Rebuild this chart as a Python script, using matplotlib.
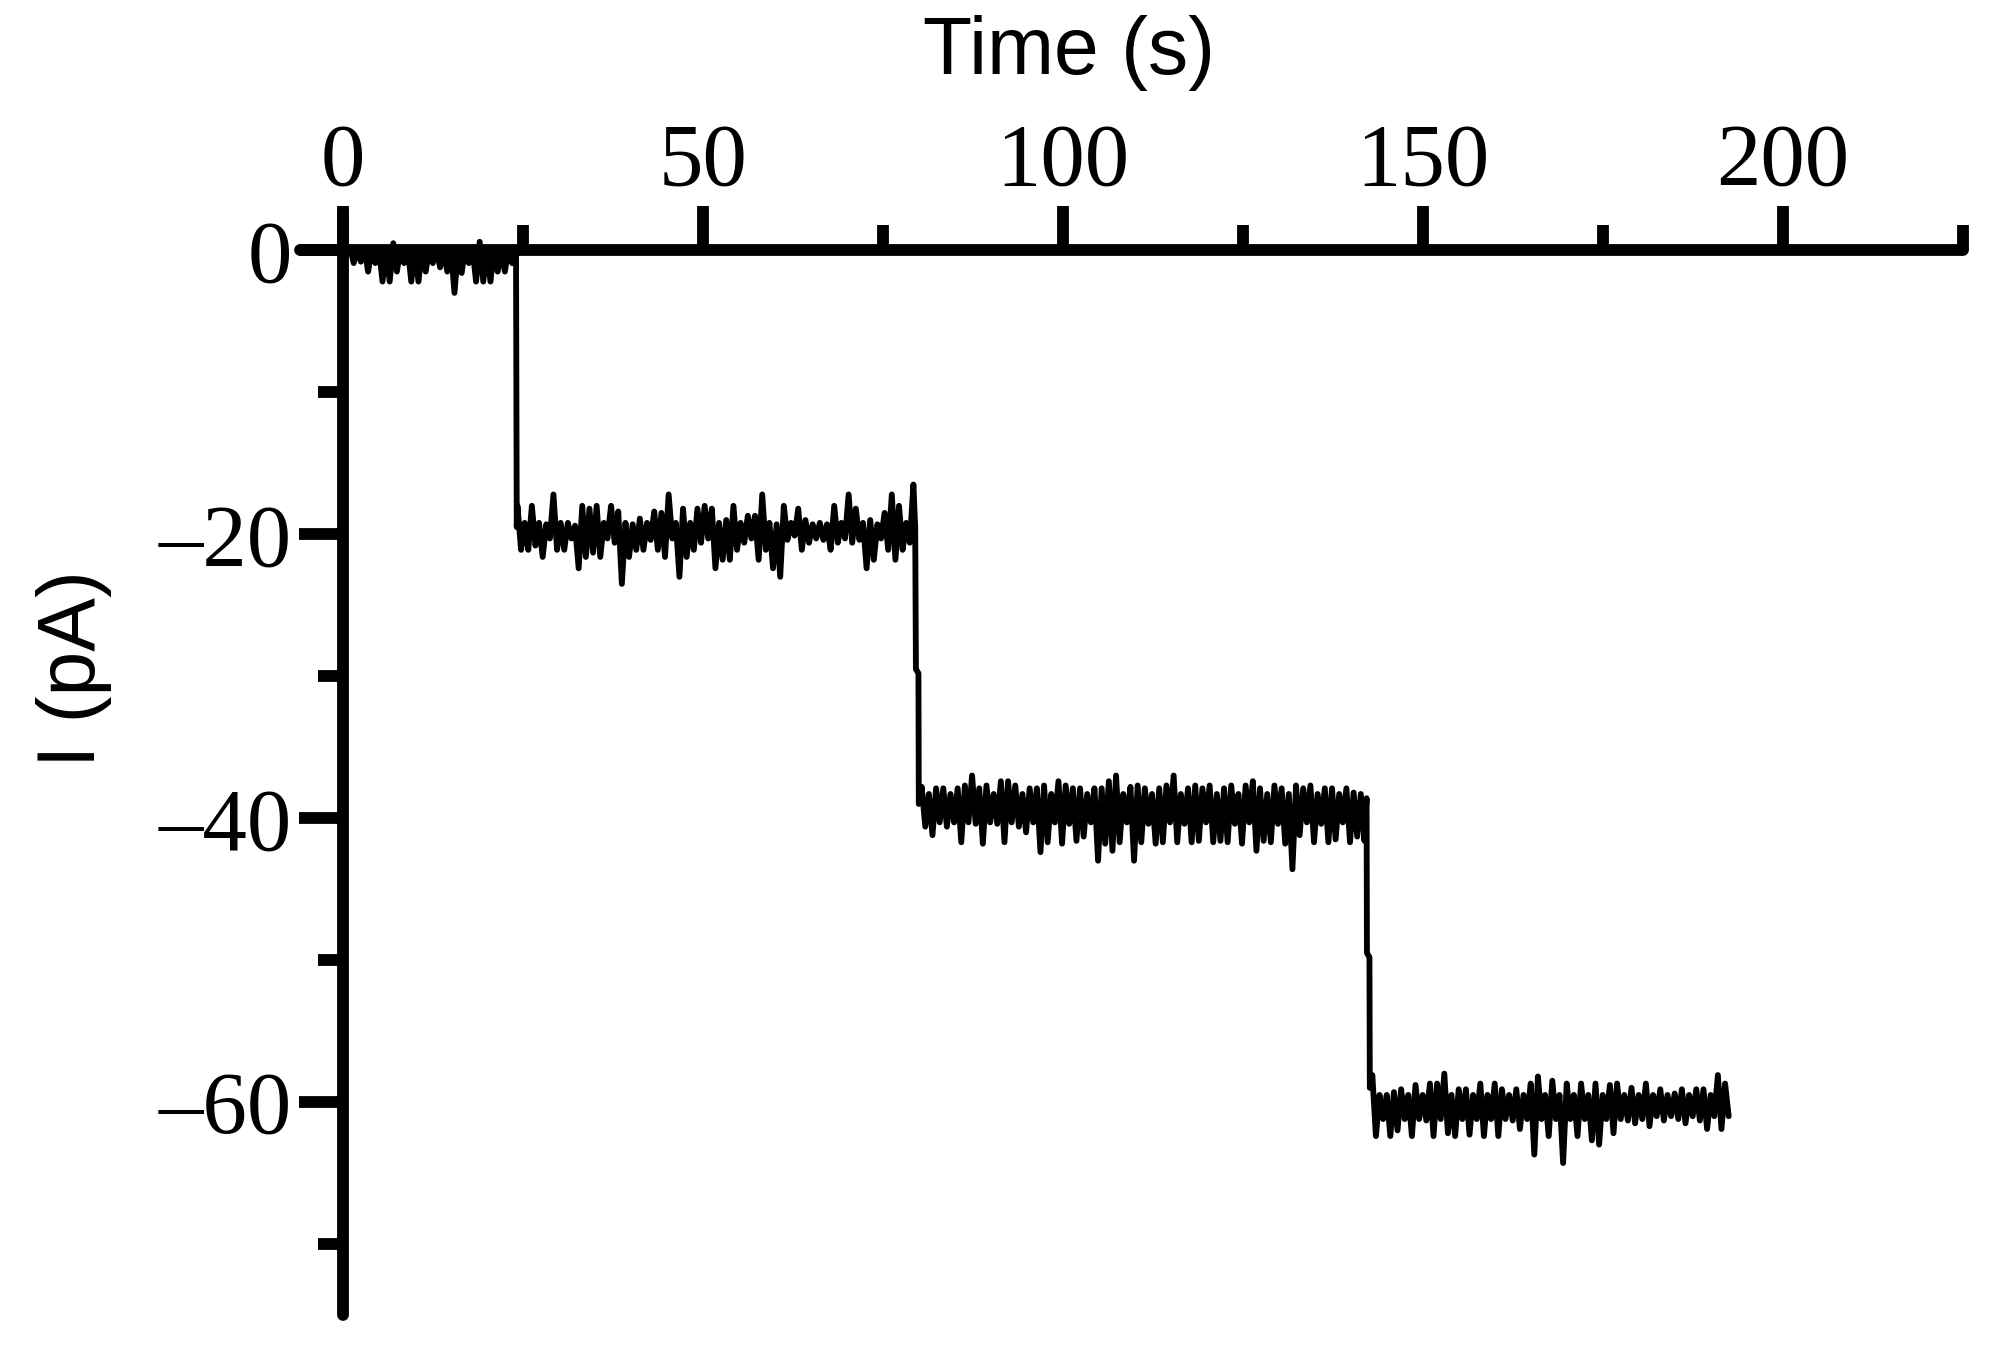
import matplotlib
matplotlib.use("Agg")
import matplotlib.pyplot as plt
import numpy as np

# ---------------- data ----------------
# each segment: time of first sample, per-second upper / lower noise excursions (pA)
seg0_start = 1.0
seg0_hi = [0.2, 0.1, 0.2, 0.1, 0.2, 0.1, 0.5, 0.1, 0.2, 0.1, 0.2, 0.1, 0.2, 0.1, 0.2, 0.1,
           0.2, 0.1, 0.6, 0.1, 0.2, 0.1, 0.2]
seg0_lo = [-0.9, -0.8, -1.5, -0.9, -2.2, -2.2, -1.5, -0.9, -2.2, -2.2, -1.5, -0.9, -1.2, -1.5,
           -3.0, -1.6, -0.9, -2.2, -2.2, -2.2, -1.5, -1.5, -0.9]

seg1_start = 24.25
seg1_hi = [-18.0, -19.2, -18.0, -19.2, -19.3, -17.2, -19.2, -19.2, -19.4, -18.0,
           -18.2, -18.0, -19.2, -18.0, -18.4, -19.2, -19.3, -18.9, -19.2, -18.4,
           -18.5, -17.2, -19.2, -18.2, -19.2, -18.2, -18.0, -18.2, -19.2, -19.0,
           -18.0, -19.2, -18.7, -18.7, -17.2, -19.2, -19.3, -18.0, -19.2, -18.2,
           -19.0, -19.3, -19.2, -19.3, -18.0, -19.2, -17.2, -18.2, -19.2, -19.0,
           -19.3, -18.5, -17.2, -18.0, -19.2]
seg1_lo = [-21.1, -21.1, -20.8, -21.6, -20.3, -21.1, -21.1, -20.3, -22.4, -21.6,
           -21.3, -21.6, -20.3, -20.6, -23.5, -21.6, -21.1, -21.1, -20.4, -21.1,
           -21.6, -20.3, -23.0, -21.6, -21.1, -20.6, -20.3, -22.4, -21.8, -21.8,
           -21.1, -20.6, -20.3, -21.8, -21.1, -22.4, -23.0, -20.4, -20.1, -21.1,
           -20.6, -20.3, -20.4, -21.1, -20.6, -20.3, -20.6, -20.4, -22.4, -21.8,
           -20.3, -21.1, -21.8, -21.1, -20.6]

seg2_start = 80.4
seg2_hi = [-37.8, -38.3, -37.9, -37.9, -38.3, -37.9, -37.7, -37.0, -37.9, -37.7,
           -38.3, -37.4, -37.4, -37.7, -38.3, -37.9, -37.9, -37.7, -38.3, -37.4,
           -37.7, -37.9, -37.9, -38.3, -37.9, -37.9, -37.4, -37.0, -38.3, -37.8,
           -37.7, -37.9, -38.3, -37.9, -37.7, -37.0, -38.3, -37.9, -37.7, -37.9,
           -37.7, -38.3, -37.9, -37.7, -38.3, -37.7, -37.4, -37.9, -38.3, -37.7,
           -37.9, -38.3, -37.7, -37.9, -37.7, -38.3, -37.9, -37.9, -38.3, -37.9,
           -38.2, -38.3]
seg2_lo = [-40.6, -41.2, -40.3, -40.6, -40.3, -41.7, -40.3, -40.4, -41.8, -40.3,
           -40.4, -41.7, -40.3, -40.6, -41.0, -40.3, -42.4, -41.7, -40.3, -41.8,
           -40.4, -41.6, -41.3, -40.3, -43.0, -41.8, -42.3, -41.7, -40.3, -43.0,
           -41.7, -40.4, -41.8, -41.7, -40.3, -41.7, -40.4, -41.7, -41.6, -40.3,
           -41.7, -41.6, -41.7, -40.4, -41.8, -40.3, -42.3, -41.6, -41.7, -40.4,
           -41.8, -43.6, -41.2, -40.3, -41.7, -40.4, -41.7, -41.5, -40.3, -41.7,
           -41.3, -41.6]

seg3_start = 143.0
seg3_hi = [-58.1, -59.5, -59.5, -59.3, -59.1, -59.5, -58.8, -59.5, -58.7, -58.7,
           -58.0, -59.5, -59.1, -59.1, -59.5, -58.7, -59.5, -58.7, -59.1, -59.5,
           -59.1, -59.5, -58.7, -58.2, -59.5, -58.5, -59.5, -58.7, -59.5, -58.7,
           -59.5, -58.7, -59.5, -58.8, -58.7, -59.5, -59.0, -59.5, -58.7, -59.5,
           -59.1, -59.5, -59.4, -59.1, -59.5, -59.1, -59.1, -59.5, -58.1, -58.7]
seg3_lo = [-62.4, -61.2, -62.4, -62.0, -61.2, -62.4, -61.2, -61.3, -62.4, -61.2,
           -62.2, -62.4, -61.2, -62.3, -61.2, -62.4, -61.2, -62.4, -61.2, -61.3,
           -61.9, -61.2, -63.7, -61.2, -62.4, -61.2, -64.3, -61.2, -62.4, -61.2,
           -62.7, -63.0, -61.2, -62.2, -61.2, -61.3, -61.5, -61.2, -61.7, -61.0,
           -61.3, -61.0, -61.2, -61.5, -61.0, -61.3, -61.9, -61.0, -61.9, -61.0]

# step transitions between levels
trans1_t = [24.05, 24.15]
trans1_v = [-0.3, -19.5]
trans2_t = [79.25, 79.5, 79.6, 79.95, 80.0]
trans2_v = [-16.5, -19.5, -29.5, -29.8, -39.0]
trans3_t = [142.2, 142.25, 142.6, 142.65]
trans3_v = [-38.6, -49.5, -49.8, -59.0]

x_major = [0, 50, 100, 150, 200]
x_minor = [25, 75, 125, 175, 225]
y_major = [0, -20, -40, -60]
y_minor = [-10, -30, -50, -70]


def segment(start, hi, lo):
    vals = np.column_stack([hi, lo]).ravel()
    times = start + 0.5 * np.arange(len(vals))
    return times, vals


parts_t, parts_v = [], []
for st, hi, lo, tt, tv in [(seg0_start, seg0_hi, seg0_lo, trans1_t, trans1_v),
                           (seg1_start, seg1_hi, seg1_lo, trans2_t, trans2_v),
                           (seg2_start, seg2_hi, seg2_lo, trans3_t, trans3_v),
                           (seg3_start, seg3_hi, seg3_lo, [], [])]:
    t, v = segment(st, hi, lo)
    parts_t += [t, np.array(tt)]
    parts_v += [v, np.array(tv)]
time = np.concatenate(parts_t)
current = np.concatenate(parts_v)

# ---------------- figure ----------------
fig = plt.figure(figsize=(19.98, 13.58), dpi=100)
ax = fig.add_axes([0.1500, 0.0317, 0.8323, 0.8122])

ax.plot(time, current, color="black", lw=4.2,
        solid_joinstyle="round", solid_capstyle="round", zorder=2)

ax.set_xlim(-6, 225)
ax.set_ylim(-75, 2.7)

for s in ["right", "bottom"]:
    ax.spines[s].set_visible(False)
ax.spines["left"].set_position(("data", 0))
ax.spines["top"].set_position(("data", 0))
for s in ["left", "top"]:
    ax.spines[s].set_linewidth(8.5)
    ax.spines[s].set_capstyle("round")
    ax.spines[s].set_zorder(3)

ax.xaxis.tick_top()
ax.yaxis.tick_left()
ax.set_xticks(x_major)
ax.set_xticks(x_minor, minor=True)
ax.set_yticks(y_major)
ax.set_yticks(y_minor, minor=True)
ax.set_xticklabels([str(v) for v in x_major])
ax.set_yticklabels([str(v).replace("-", "\u2013") for v in y_major])

ax.tick_params(which="major", length=32, width=8.5, direction="out")
ax.tick_params(which="minor", length=18, width=8.5, direction="out")
ax.tick_params(axis="x", which="major", pad=2)
ax.tick_params(axis="y", which="major", pad=5)

for lab in ax.get_xticklabels() + ax.get_yticklabels():
    lab.set_fontfamily("Liberation Serif")
    lab.set_fontsize(64)

fig.text(1069 / 1998, 1 - 53 / 1358, "Time (s)", ha="center", va="center",
         fontsize=58, family="Liberation Sans")
fig.text(74 / 1998, 1 - 669 / 1358, "I (pA)", ha="center", va="center",
         rotation=90, fontsize=58, family="Liberation Sans")

fig.savefig("out.png", dpi=100)
